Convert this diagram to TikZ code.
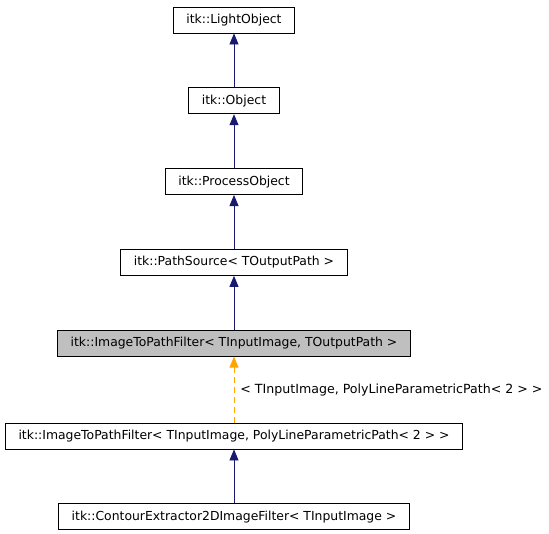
\documentclass[tikz,border=0pt]{standalone}
\usepackage{fontspec}
\setmainfont{DejaVu Sans}
\usetikzlibrary{positioning, arrows.meta}
\definecolor{edgeblue}{HTML}{191970}
\definecolor{tmplorange}{HTML}{FFA500}
\definecolor{curgray}{HTML}{BFBFBF}

\begin{document}
\begin{tikzpicture}[->, >={Triangle[length=11pt,width=9pt]}, line width=0.8pt,
    node distance=54pt,
    cls/.style={draw=black, rectangle, fill=white, inner xsep=13pt,
      minimum height=26pt, font=\fontsize{12.4}{14}\selectfont},
    inherit/.style={draw=edgeblue, edgeblue},
    tmpl/.style={draw=tmplorange, tmplorange, dashed, dash pattern=on 6pt off 4pt}]
      \useasboundingbox (0,0) rectangle (549pt,-533pt);
      \node[cls] (light) at (234pt,-20pt) {itk::LightObject};
      \node[cls, below=of light] (obj) {itk::Object};
      \node[cls, below=of obj] (proc) {itk::ProcessObject};
      \node[cls, below=of proc] (psrc) {itk::PathSource< TOutputPath >};
      \node[cls, fill=curgray, below=of psrc] (i2p)
        {itk::ImageToPathFilter< TInputImage, TOutputPath >};
      \node[cls, below=66pt of i2p] (i2poly)
        {itk::ImageToPathFilter< TInputImage, PolyLineParametricPath< 2 > >};
      \node[cls, below=of i2poly] (contour)
        {itk::ContourExtractor2DImageFilter< TInputImage >};
      \path (obj) edge[inherit] (light)
      (proc) edge[inherit] (obj)
      (psrc) edge[inherit] (proc)
      (i2p) edge[inherit] (psrc)
      (i2poly) edge[tmpl] node[right, inner xsep=6pt, text=black,
        font=\fontsize{12.6}{14}\selectfont]
        {< TInputImage, PolyLineParametricPath< 2 > >} (i2p)
      (contour) edge[inherit] (i2poly);
    \end{tikzpicture}
\end{document}
